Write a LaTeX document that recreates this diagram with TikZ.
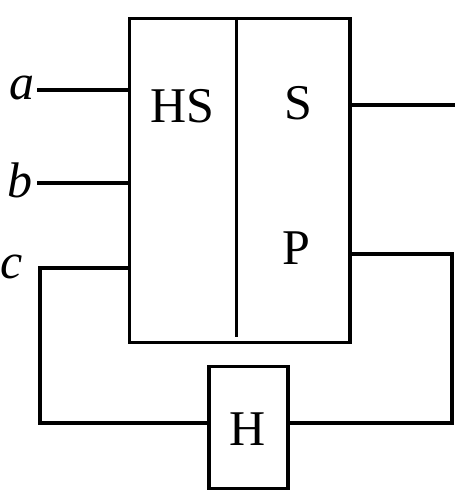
\documentclass[tikz,border=0pt]{standalone}
\usepackage{fontspec}
\setmainfont{Liberation Serif}
\usetikzlibrary{positioning}

\begin{document}
\begin{tikzpicture}[x=1pt, y=-1pt,
	wire/.style={line width=3.2pt, line cap=rect},
	blockbox/.style={shape=rectangle, draw, line width=3.2pt, inner sep=0pt},
	lbl/.style={anchor=base, inner sep=0pt, font=\fontsize{50}{58}\selectfont}]
	\useasboundingbox (0,0) rectangle (455,492);
	% main block and feedback block
	\node[blockbox, minimum width=220.5pt, minimum height=324pt] (sys) at (239.75,180.6){};
	\node[blockbox, minimum width=79pt, minimum height=122pt] (hbox) at (248.5,427.7){};
	\draw[wire, line cap=butt] (236.7,0 |- sys.north) coordinate (divtop) -- (divtop |- 0,337) coordinate (divbot);
	% texts
	\node[lbl] (hs) at (182,122){HS};
	\node[lbl] (s) at (298,120){S};
	\node[lbl] (p) at (296,264){P};
	\node[lbl] (h) at (247.5,445){H};
	\node[lbl] (la) at (22,100){\textit{a}};
	\node[lbl] (lb) at (20,197){\textit{b}};
	\node[lbl] (lc) at (12,278){\textit{c}};
	% inputs and output
	\coordinate (a0) at (39,90);
	\coordinate (b0) at (39,183);
	\coordinate (c0) at (40,268);
	\coordinate (c1) at (40,423);
	\coordinate (out) at (453,105);
	\coordinate (fb) at (452,254);
	\draw[wire] (a0) -- (a0 -| sys.west);
	\draw[wire] (b0) -- (b0 -| sys.west);
	\draw[wire] (sys.west |- c0) -- (c0) -- (c1) -- (c1 -| hbox.west);
	\draw[wire] (sys.east |- out) -- (out);
	\draw[wire] (sys.east |- fb) -- (fb) -- (fb |- c1) -- (c1 -| hbox.east);
\end{tikzpicture}
\end{document}
